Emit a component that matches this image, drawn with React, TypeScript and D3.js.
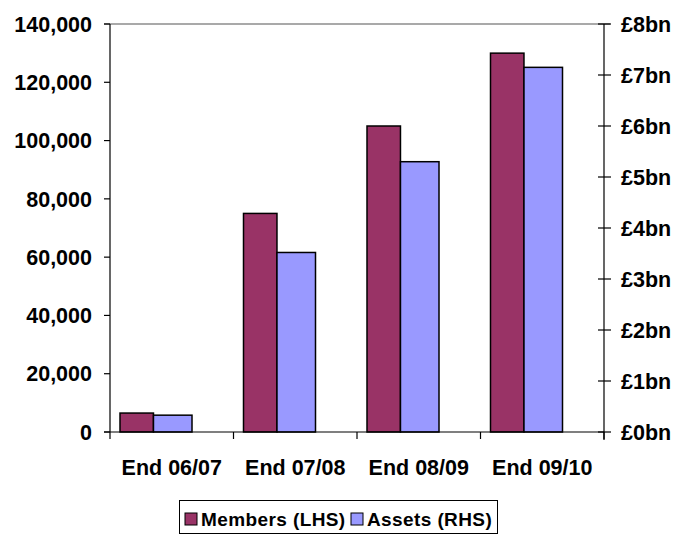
import React from "react";
import * as d3 from "d3";

const categories = ["End 06/07", "End 07/08", "End 08/09", "End 09/10"];
const members = [6500, 75000, 105000, 130000];
const assets = [0.33, 3.52, 5.3, 7.15];
const leftTicks = [0, 20000, 40000, 60000, 80000, 100000, 120000, 140000];
const rightTicks = [0, 1, 2, 3, 4, 5, 6, 7, 8];
const seriesNames = ["Members (LHS)", "Assets (RHS)"];
const colors = ["#993366", "#9999FF"];

const W = 676, H = 535;
const left = 110, right = 604, top = 24, bottom = 432;
const font = "Arial, 'Liberation Sans', Helvetica, sans-serif";

export default function App() {
  const x = d3.scaleBand<string>().domain(categories).range([left, right]).padding(0);
  const yL = d3.scaleLinear().domain([0, 140000]).range([bottom, top]);
  const yR = d3.scaleLinear().domain([0, 8]).range([bottom, top]);
  const bw = x.bandwidth();
  const fmt = d3.format(",");
  const bounds = d3.range(categories.length + 1).map((i) => left + i * bw);

  return (
    <svg width={W} height={H} style={{ position: "absolute", left: 0, top: 0, background: "#fff" }} fontFamily={font}>
      {/* top border */}
      <line x1={104} x2={610} y1={top} y2={top} stroke="#8c8c8c" strokeWidth={1.5} />
      {/* bars */}
      {categories.map((c, i) => {
        const x0 = x(c)!;
        const mx = x0 + bw * 0.081;
        const ax = x0 + bw * 0.352;
        const ex = x0 + bw * 0.664;
        return (
          <g key={c}>
            <rect x={mx} y={yL(members[i])} width={ax - mx} height={bottom - yL(members[i])} fill={colors[0]} stroke="#000" strokeWidth={1.5} />
            <rect x={ax} y={yR(assets[i])} width={ex - ax} height={bottom - yR(assets[i])} fill={colors[1]} stroke="#000" strokeWidth={1.5} />
          </g>
        );
      })}
      {/* left axis */}
      <line x1={left} x2={left} y1={top} y2={bottom} stroke="#000" strokeWidth={1.2} />
      {leftTicks.map((t) => (
        <g key={"l" + t}>
          <line x1={left - 6} x2={left} y1={yL(t)} y2={yL(t)} stroke="#000" strokeWidth={1.2} />
          <text x={92} y={yL(t)} dy="0.36em" textAnchor="end" fontSize={21.5} fontWeight="bold" fill="#000">{fmt(t)}</text>
        </g>
      ))}
      {/* right axis */}
      <line x1={right} x2={right} y1={top} y2={bottom + 8} stroke="#000" strokeWidth={1.2} />
      {rightTicks.map((t) => (
        <g key={"r" + t}>
          <line x1={right - 6} x2={right + 7} y1={yR(t)} y2={yR(t)} stroke="#000" strokeWidth={1.2} />
          <text x={621} y={yR(t)} dy="0.36em" textAnchor="start" fontSize={21.5} fontWeight="bold" fill="#000">{"£" + t + "bn"}</text>
        </g>
      ))}
      {/* x axis */}
      <line x1={left - 6} x2={right} y1={bottom} y2={bottom} stroke="#000" strokeWidth={1.2} />
      {bounds.map((b, i) => (
        <line key={"b" + i} x1={b} x2={b} y1={bottom} y2={bottom + 7} stroke="#000" strokeWidth={1.2} />
      ))}
      {categories.map((c) => (
        <text key={"c" + c} x={x(c)! + bw / 2} y={475} textAnchor="middle" fontSize={21.5} fontWeight="bold" fill="#000">{c}</text>
      ))}
      {/* legend */}
      <rect x={179.5} y={500.5} width={318} height={33} fill="#fff" stroke="#000" strokeWidth={1} />
      <rect x={185} y={513} width={12} height={12} fill={colors[0]} stroke="#000" strokeWidth={1} />
      <text x={201} y={526} fontSize={19} fontWeight="bold" letterSpacing={0.4} fill="#000">{seriesNames[0]}</text>
      <rect x={351} y={513} width={12} height={12} fill={colors[1]} stroke="#000" strokeWidth={1} />
      <text x={367} y={526} fontSize={19} fontWeight="bold" letterSpacing={0.4} fill="#000">{seriesNames[1]}</text>
    </svg>
  );
}
